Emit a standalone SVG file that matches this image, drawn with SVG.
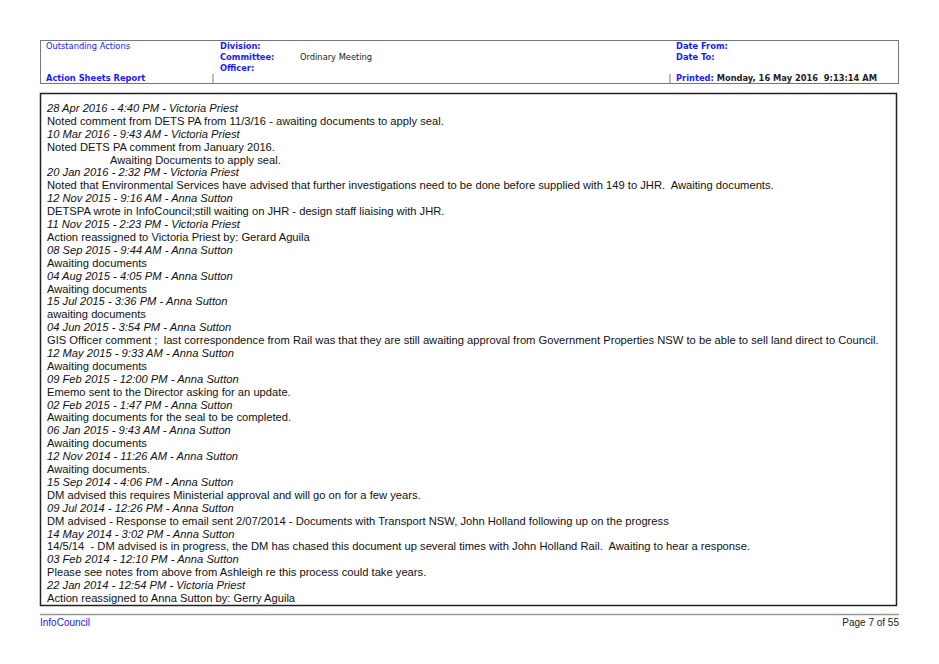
<svg xmlns="http://www.w3.org/2000/svg" width="939" height="664" viewBox="0 0 939 664">
<style>
.h{font-family:"DejaVu Sans",Verdana,sans-serif;font-size:8.3px;fill:#1a1aff}
.b{font-weight:bold}
.k{fill:#222}
.t{font-family:"Liberation Sans",Arial,sans-serif;font-size:11.2px;fill:#111;white-space:pre}
.i{font-style:italic}
.f{font-family:"Liberation Sans Narrow","Liberation Sans",sans-serif;font-size:10px}
</style>
<rect width="939" height="664" fill="#fff"/>
<g id="header">
<rect x="40.5" y="40.5" width="858" height="43" fill="none" stroke="#777" stroke-width="1"/>
<line x1="213" y1="74" x2="213" y2="84" stroke="#777"/>
<line x1="670" y1="74" x2="670" y2="84" stroke="#777"/>
<text class="h" x="46" y="49">Outstanding Actions</text>
<text class="h b" x="46" y="81">Action Sheets Report</text>
<text class="h b" x="220" y="49">Division:</text>
<text class="h b" x="220" y="60">Committee:</text>
<text class="h k" x="300" y="60">Ordinary Meeting</text>
<text class="h b" x="220" y="71">Officer:</text>
<text class="h b" x="676" y="49">Date From:</text>
<text class="h b" x="676" y="60">Date To:</text>
<text class="h b" x="676" y="81" xml:space="preserve">Printed: <tspan fill="#222">Monday, 16 May 2016  9:13:14 AM</tspan></text>
</g>
<g id="body">
<rect x="40.5" y="93.5" width="856" height="512" fill="none" stroke="#222" stroke-width="1.5"/>
<g class="t" transform="translate(0,112) scale(1,0.9919) translate(0,-111)">
<text class="i" x="47" y="111">28 Apr 2016 - 4:40 PM - Victoria Priest</text>
<text x="47" y="124">Noted comment from DETS PA from 11/3/16 - awaiting documents to apply seal.</text>
<text class="i" x="47" y="137">10 Mar 2016 - 9:43 AM - Victoria Priest</text>
<text x="47" y="150">Noted DETS PA comment from January 2016.</text>
<text x="110" y="163">Awaiting Documents to apply seal.</text>
<text class="i" x="47" y="176">20 Jan 2016 - 2:32 PM - Victoria Priest</text>
<text x="47" y="189" xml:space="preserve">Noted that Environmental Services have advised that further investigations need to be done before supplied with 149 to JHR.  Awaiting documents.</text>
<text class="i" x="47" y="202">12 Nov 2015 - 9:16 AM - Anna Sutton</text>
<text x="47" y="215">DETSPA wrote in InfoCouncil;still waiting on JHR - design staff liaising with JHR.</text>
<text class="i" x="47" y="228">11 Nov 2015 - 2:23 PM - Victoria Priest</text>
<text x="47" y="241">Action reassigned to Victoria Priest by: Gerard Aguila</text>
<text class="i" x="47" y="254">08 Sep 2015 - 9:44 AM - Anna Sutton</text>
<text x="47" y="267">Awaiting documents</text>
<text class="i" x="47" y="280">04 Aug 2015 - 4:05 PM - Anna Sutton</text>
<text x="47" y="293">Awaiting documents</text>
<text class="i" x="47" y="306">15 Jul 2015 - 3:36 PM - Anna Sutton</text>
<text x="47" y="319">awaiting documents</text>
<text class="i" x="47" y="332">04 Jun 2015 - 3:54 PM - Anna Sutton</text>
<text x="47" y="345" xml:space="preserve">GIS Officer comment ;  last correspondence from Rail was that they are still awaiting approval from Government Properties NSW to be able to sell land direct to Council.</text>
<text class="i" x="47" y="358">12 May 2015 - 9:33 AM - Anna Sutton</text>
<text x="47" y="371">Awaiting documents</text>
<text class="i" x="47" y="384">09 Feb 2015 - 12:00 PM - Anna Sutton</text>
<text x="47" y="397">Ememo sent to the Director asking for an update.</text>
<text class="i" x="47" y="410">02 Feb 2015 - 1:47 PM - Anna Sutton</text>
<text x="47" y="423">Awaiting documents for the seal to be completed.</text>
<text class="i" x="47" y="436">06 Jan 2015 - 9:43 AM - Anna Sutton</text>
<text x="47" y="449">Awaiting documents</text>
<text class="i" x="47" y="462">12 Nov 2014 - 11:26 AM - Anna Sutton</text>
<text x="47" y="475">Awaiting documents.</text>
<text class="i" x="47" y="488">15 Sep 2014 - 4:06 PM - Anna Sutton</text>
<text x="47" y="501">DM advised this requires Ministerial approval and will go on for a few years.</text>
<text class="i" x="47" y="514">09 Jul 2014 - 12:26 PM - Anna Sutton</text>
<text x="47" y="527">DM advised - Response to email sent 2/07/2014 - Documents with Transport NSW, John Holland following up on the progress</text>
<text class="i" x="47" y="540">14 May 2014 - 3:02 PM - Anna Sutton</text>
<text x="47" y="553" xml:space="preserve">14/5/14  - DM advised is in progress, the DM has chased this document up several times with John Holland Rail.  Awaiting to hear a response.</text>
<text class="i" x="47" y="566">03 Feb 2014 - 12:10 PM - Anna Sutton</text>
<text x="47" y="579">Please see notes from above from Ashleigh re this process could take years.</text>
<text class="i" x="47" y="592">22 Jan 2014 - 12:54 PM - Victoria Priest</text>
<text x="47" y="605">Action reassigned to Anna Sutton by: Gerry Aguila</text>
</g>
</g>
<g id="footer">
<line x1="40" y1="614.5" x2="899" y2="614.5" stroke="#999" stroke-width="1.5"/>
<text class="f" x="40" y="626" fill="#1a1aff">InfoCouncil</text>
<text class="f" x="899" y="626" fill="#222" text-anchor="end">Page 7 of 55</text>
</g>
</svg>
